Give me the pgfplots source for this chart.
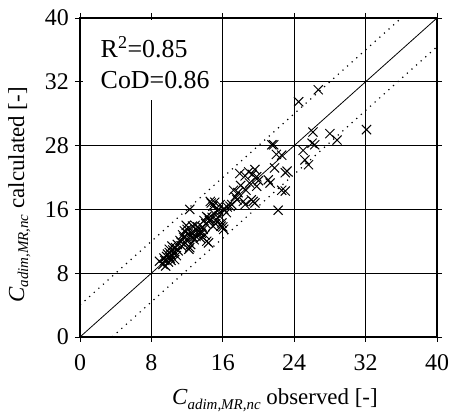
\documentclass[border=0pt]{standalone}
\usepackage{pgfplots}
\pgfplotsset{compat=1.18}
\usepackage{fontspec}
\setmainfont{Liberation Serif}
\usetikzlibrary{calc}

\newcommand{\Cvar}{\textit{C}\raisebox{-0.4ex}{\fontsize{15}{15}\selectfont\itshape adim,MR,nc}}

\begin{document}
\begin{tikzpicture}
\begin{axis}[
    name=ax,
    scale only axis,
    width=357bp, height=319bp,
    xmin=0, xmax=40, ymin=0, ymax=40,
    xtick={0,8,16,24,32,40},
    ytick={0,8,16,24,32,40},
    yticklabels={0,8,16,28,32,40},
    grid=major,
    major grid style={black, line width=0.8pt},
    axis line style={line width=1.8pt},
    tick align=outside,
    tick style={black, line width=0.8pt},
    major tick length=5bp,
    /pgf/number format/assume math mode=true,
    tick label style={font=\fontsize{24}{26}\selectfont},
    xticklabel style={inner sep=0pt, yshift=-12bp},
    yticklabel style={inner sep=0pt, xshift=-6bp},
    xlabel={\Cvar\ observed [-]},
    ylabel={\Cvar\ calculated [-]},
    label style={font=\fontsize{23}{25}\selectfont},
    xlabel style={at={(axis description cs:0.546,0)}, anchor=base, yshift=-68bp},
    ylabel style={at={(axis description cs:-0.17,0.445)}, anchor=center},
    clip=false,
]
% 1:1 line and band
\addplot[black, line width=0.8pt] coordinates {(0,0) (40,40)};
\addplot[black, line width=1.2pt, dash pattern=on 1.2pt off 5pt] coordinates {(0,4) (36,40)};
\addplot[black, line width=1.2pt, dash pattern=on 1.2pt off 5pt] coordinates {(3.6,0) (40,36.4)};

\addplot[only marks, mark=x, mark size=6.5pt, black, line width=1pt] coordinates {
(8.9,9.5) (9.3,9.1) (9.5,9.6) (9.7,10.1) (9.9,9.4) (10.0,10.6) (10.1,9.9)
(10.2,10.3) (10.4,10.9) (10.5,10.5) (10.6,9.7) (10.7,11.2) (10.8,10.2)
(9.6,8.9) (10.3,11.4) (11.0,10.8) (10.9,11.6) (9.8,10.4) (10.2,9.6)
(10.6,10.7) (10.0,11.0) (9.4,9.9)
(11.2,12.1) (11.4,11.4) (11.5,12.8) (11.7,13.3) (11.8,11.8) (12.0,13.5)
(12.0,12.3) (12.2,11.0) (12.3,11.2) (12.3,16.0) (12.4,12.7) (12.5,13.1)
(12.6,13.9) (12.8,12.2) (13.0,12.6) (13.1,13.4) (13.3,12.9) (13.4,13.1)
(13.5,12.4) (13.7,13.8) (13.8,13.5) (14.0,12.8) (14.2,12.0) (14.4,11.8)
(14.1,14.2) (11.6,12.5) (12.9,14.0) (11.3,11.9) (12.1,12.9) (12.7,12.5)
(13.2,13.8) (13.6,13.0) (11.9,14.0) (12.4,11.6) (13.9,14.6)
(14.2,15.1) (14.5,14.6) (14.6,17.0) (14.7,16.8) (14.9,16.4) (14.9,13.9)
(15.0,15.5) (15.2,14.2) (15.3,14.7) (15.5,16.0) (15.6,15.2) (15.9,14.3)
(16.0,13.8) (16.1,13.5) (16.1,16.0) (16.4,15.6) (16.5,16.3) (16.8,16.4)
(15.7,16.6) (14.8,15.0) (15.4,15.8) (15.1,16.9) (15.8,13.9) (14.4,14.9)
(17.2,18.4) (17.4,17.6) (17.6,17.2) (17.7,18.1) (17.9,20.5) (18.0,19.0)
(18.5,20.2) (18.5,16.6) (18.9,20.7) (19.0,19.3) (19.2,17.2) (19.4,17.0)
(19.6,21.0) (19.6,16.8) (19.8,18.9) (19.8,20.1) (18.3,17.0) (20.0,19.6)
(18.6,18.4) (19.3,20.4) (17.0,16.6)
(21.1,19.7) (21.3,19.3) (21.5,24.1) (21.7,24.1) (21.8,21.2) (22.0,22.9)
(22.2,15.9) (22.6,22.8) (22.6,18.4) (23.0,18.3) (23.0,20.6) (23.2,20.8)
(24.5,29.5) (25.0,23.4) (25.2,22.2) (25.6,21.6) (26.0,24.3) (26.3,24.1)
(26.1,25.7) (26.7,31.0) (28.0,25.5) (28.8,24.7) (32.1,26.0)
};

% annotation box
\fill[white] (axis cs:0.3,29.7) rectangle (axis cs:15.7,39.7);
\node[anchor=base west, font=\fontsize{26}{28}\selectfont, inner sep=0pt] at (axis cs:2.3,35.0) {R\textsuperscript{2}=0.85};
\node[anchor=base west, font=\fontsize{26}{28}\selectfont, inner sep=0pt] at (axis cs:2.3,31.2) {CoD=0.86};
\end{axis}
\pgfresetboundingbox
\path[use as bounding box] ($(ax.south west)+(-80bp,-80bp)$) rectangle ($(ax.north east)+(12bp,18bp)$);
\end{tikzpicture}
\end{document}
